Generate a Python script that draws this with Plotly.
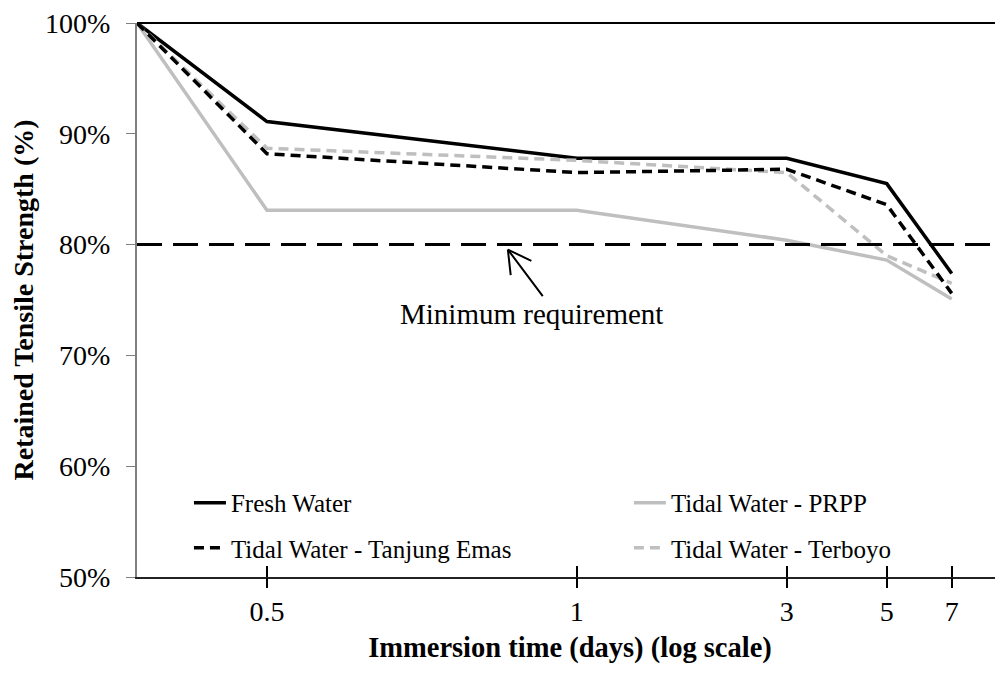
import plotly.graph_objects as go

# ---- data ----
days = [0, 0.5, 1, 3, 5, 7]
# horizontal position of each immersion time on the (hand-spaced) chart axis
axis_position = [0, 1.30, 4.40, 6.50, 7.50, 8.15]
tick_labels = ["0.5", "1", "3", "5", "7"]

fresh_water = [100, 91.1, 87.8, 87.8, 85.5, 77.4]
tidal_prpp = [100, 83.1, 83.1, 80.4, 78.6, 75.1]
tidal_tanjung_emas = [100, 88.2, 86.5, 86.8, 83.6, 75.6]
tidal_terboyo = [100, 88.7, 87.6, 86.5, 79.0, 76.5]

min_requirement = 80
y_ticks = [50, 60, 70, 80, 90, 100]
y_tick_labels = ["50%", "60%", "70%", "80%", "90%", "100%"]

FONT = "Liberation Serif, Times New Roman, serif"
BLACK = "#000000"
GREY = "#BFBFBF"

fig = go.Figure()

series = [
    ("Fresh Water", fresh_water, BLACK, "solid", "legend"),
    ("Tidal Water - PRPP", tidal_prpp, GREY, "solid", "legend2"),
    ("Tidal Water - Terboyo", tidal_terboyo, GREY, "10px,6px", "legend4"),
    ("Tidal Water - Tanjung Emas", tidal_tanjung_emas, BLACK, "10px,6px", "legend3"),
]
for name, vals, col, dash, leg in series:
    fig.add_trace(go.Scatter(
        x=axis_position, y=vals, name=name, mode="lines",
        line=dict(color=col, width=3.5, dash=dash),
        customdata=days, legend=leg,
        hovertemplate="%{customdata} days: %{y:.1f}%<extra>" + name + "</extra>",
    ))

# minimum requirement line
fig.add_hline(y=min_requirement, line=dict(color=BLACK, width=3, dash="25px,11px"))

# top border line
fig.add_shape(type="line", xref="paper", yref="paper", x0=0, x1=1, y0=1, y1=1,
              line=dict(color=BLACK, width=2))

# annotation: open-headed arrow (shaft + two barbs) pointing at the requirement line
arrow_x = axis_position[2] - 0.69
arrow_y = min_requirement - 0.45
for ax_off, ay_off in [(36, 48), (25, 12), (3, 27)]:
    fig.add_annotation(x=arrow_x, y=arrow_y, ax=ax_off, ay=ay_off, text="",
                       showarrow=True, arrowhead=0, arrowwidth=2, arrowcolor=BLACK)
fig.add_annotation(x=axis_position[2] - 0.45, y=min_requirement - 6.3, text="Minimum requirement",
                   showarrow=False, font=dict(family=FONT, size=29, color=BLACK))

xrange = [0, 8.663]

legend_common = dict(orientation="h", xanchor="left", yanchor="middle",
                     bgcolor="rgba(0,0,0,0)", borderwidth=0, itemwidth=32,
                     font=dict(family=FONT, size=25, color=BLACK))

fig.update_layout(
    width=995, height=674,
    margin=dict(l=129, r=0, t=15, b=105, autoexpand=False),
    plot_bgcolor="white", paper_bgcolor="white",
    font=dict(family=FONT, color=BLACK),
    xaxis=dict(
        range=xrange, tickvals=axis_position[1:], ticktext=tick_labels, automargin=False,
        showgrid=False, zeroline=False, showline=True, linecolor="#222222", linewidth=2,
        ticks="inside", ticklen=11, tickwidth=1.5, tickcolor=BLACK,
        tickfont=dict(family=FONT, size=28, color=BLACK), ticklabelstandoff=8,
        ticklabeloverflow="allow",
        title=dict(text="<b>Immersion time (days) (log scale)</b>", standoff=11,
                   font=dict(family=FONT, size=28.5, color=BLACK)),
    ),
    xaxis2=dict(
        range=xrange, overlaying="x", anchor="y", side="bottom", automargin=False,
        tickvals=axis_position[1:], showticklabels=False,
        showgrid=False, zeroline=False, showline=False,
        ticks="outside", ticklen=10, tickwidth=1.5, tickcolor=BLACK,
    ),
    yaxis=dict(
        range=[50, 100], tickvals=y_ticks, ticktext=y_tick_labels, automargin=False,
        showgrid=False, zeroline=False, showline=True, linecolor="#7F7F7F", linewidth=2,
        ticks="outside", ticklen=9, tickwidth=1, tickcolor="#7F7F7F",
        tickfont=dict(family=FONT, size=28, color=BLACK), ticklabelstandoff=10,
        ticklabeloverflow="allow",
        title=dict(text="<b>Retained Tensile Strength (%)</b>", standoff=6,
                   font=dict(family=FONT, size=28, color=BLACK)),
    ),
    legend=dict(x=0.060, y=0.1336, **legend_common),
    legend2=dict(x=0.568, y=0.1336, **legend_common),
    legend3=dict(x=0.060, y=0.0523, **legend_common),
    legend4=dict(x=0.568, y=0.0523, **legend_common),
    showlegend=True,
)

# helper trace to activate xaxis2 (outer half of the crossing tick marks)
fig.add_trace(go.Scatter(x=[axis_position[1]], y=[None], xaxis="x2", yaxis="y",
                         showlegend=False, hoverinfo="skip"))

fig.write_html("out.html")
